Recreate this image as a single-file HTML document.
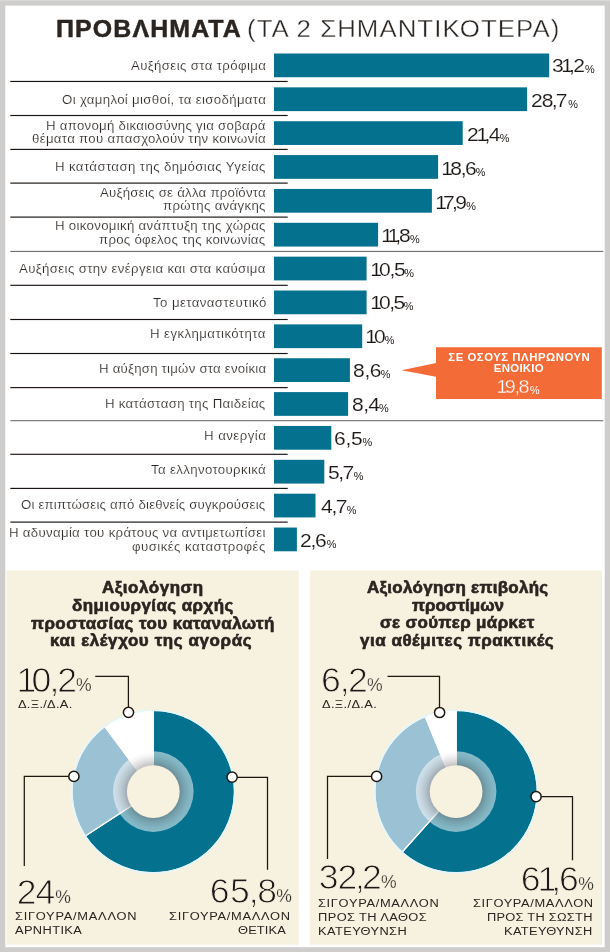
<!DOCTYPE html><html lang="el"><head><meta charset="utf-8"><title>Προβλήματα</title><style>
*{margin:0;padding:0;box-sizing:border-box}
html,body{width:610px;height:952px;overflow:hidden;background:#cecdcb}
body{position:relative;font-family:"Liberation Sans",sans-serif;color:#2a2521}
h1,h2{font:inherit}
.svg{position:absolute;left:0;top:0}
.t{position:absolute;white-space:nowrap;line-height:1em;transform-origin:0 0}
.p{position:absolute;white-space:nowrap;line-height:1em;color:#1d1815}
.tl{-webkit-text-stroke:0.35px #fff}
.num{-webkit-text-stroke:0.12px #fff;color:#1d1815}
.big{-webkit-text-stroke:0.95px #f7f1e0;color:#1d1815}
.num.onor{-webkit-text-stroke:0.3px #f36b37}
.pb{-webkit-text-stroke:0.3px #f7f1e0}
.one{margin:0 -0.12em 0 -0.08em}
.cm{margin:0 -0.05em 0 -0.04em}
.lb{-webkit-text-stroke:0.18px #fff}
.hv{-webkit-text-stroke:0.45px #2a2521}
.hp{-webkit-text-stroke:0.6px #2a2521}
</style></head><body>
<svg class="svg" width="610" height="952" viewBox="0 0 610 952">
<defs><radialGradient id="sh" cx="0.5" cy="0.5" r="0.5"><stop offset="0.64" stop-color="#20181a" stop-opacity="0.28"/><stop offset="0.76" stop-color="#20181a" stop-opacity="0.15"/><stop offset="0.90" stop-color="#20181a" stop-opacity="0.04"/><stop offset="1" stop-color="#20181a" stop-opacity="0"/></radialGradient></defs>
<rect x="0" y="0" width="610" height="1.2" fill="#d9d9d8"/>
<rect x="5.3" y="5.6" width="599.4" height="941.6" fill="#fff"/>
<rect x="6.5" y="570.6" width="292.2" height="374.2" fill="#f7f1e0"/>
<rect x="310.2" y="570.6" width="291.9" height="374.2" fill="#f7f1e0"/>
<rect x="274.0" y="53.50" width="275.2" height="23.75" fill="#04718f"/>
<rect x="10.3" y="80.88" width="277.4" height="1.15" fill="#17120f"/>
<rect x="274.0" y="87.36" width="253.1" height="23.75" fill="#04718f"/>
<rect x="10.3" y="114.93" width="277.4" height="1.15" fill="#17120f"/>
<rect x="274.0" y="121.22" width="188.7" height="23.75" fill="#04718f"/>
<rect x="10.3" y="148.83" width="277.4" height="1.15" fill="#17120f"/>
<rect x="274.0" y="155.08" width="164.1" height="23.75" fill="#04718f"/>
<rect x="10.3" y="182.53" width="277.4" height="1.15" fill="#17120f"/>
<rect x="274.0" y="188.94" width="157.9" height="23.75" fill="#04718f"/>
<rect x="10.3" y="216.53" width="277.4" height="1.15" fill="#17120f"/>
<rect x="274.0" y="222.80" width="104.1" height="23.75" fill="#04718f"/>
<rect x="10.3" y="250.88" width="593" height="1.1" fill="#6f6f6f"/>
<rect x="274.0" y="256.66" width="92.6" height="23.75" fill="#04718f"/>
<rect x="10.3" y="284.73" width="277.4" height="1.15" fill="#17120f"/>
<rect x="274.0" y="290.52" width="92.6" height="23.75" fill="#04718f"/>
<rect x="10.3" y="318.93" width="277.4" height="1.15" fill="#17120f"/>
<rect x="274.0" y="324.38" width="88.2" height="23.75" fill="#04718f"/>
<rect x="10.3" y="352.93" width="277.4" height="1.15" fill="#17120f"/>
<rect x="274.0" y="358.24" width="75.9" height="23.75" fill="#04718f"/>
<rect x="10.3" y="387.03" width="277.4" height="1.15" fill="#17120f"/>
<rect x="274.0" y="392.10" width="74.1" height="23.75" fill="#04718f"/>
<rect x="10.3" y="420.13" width="593" height="1.1" fill="#6f6f6f"/>
<rect x="274.0" y="425.96" width="57.3" height="23.75" fill="#04718f"/>
<rect x="10.3" y="453.73" width="277.4" height="1.15" fill="#17120f"/>
<rect x="274.0" y="459.82" width="50.3" height="23.75" fill="#04718f"/>
<rect x="10.3" y="487.83" width="277.4" height="1.15" fill="#17120f"/>
<rect x="274.0" y="493.68" width="41.5" height="23.75" fill="#04718f"/>
<rect x="10.3" y="521.53" width="277.4" height="1.15" fill="#17120f"/>
<rect x="274.0" y="527.54" width="22.9" height="23.75" fill="#04718f"/>
<path d="M436 347.2H601.8V399.1H436V376.8L401.6 370.3L436 363Z" fill="#f36b37"/>
<path d="M153.30 791.60L153.30 710.30A81.3 81.3 0 1 1 85.21 836.02Z" fill="#04718f" stroke="#fff" stroke-width="1.3" stroke-linejoin="round"/>
<path d="M153.30 791.60L85.21 836.02A81.3 81.3 0 0 1 104.69 726.43Z" fill="#9bc1d5" stroke="#fff" stroke-width="1.3" stroke-linejoin="round"/>
<path d="M153.30 791.60L104.69 726.43A81.3 81.3 0 0 1 153.30 710.30Z" fill="#fff" stroke="#fff" stroke-width="1.3" stroke-linejoin="round"/>
<circle cx="153.3" cy="791.6" r="81.3" fill="none" stroke="#e4f6f9" stroke-width="1.6"/>
<circle cx="153.3" cy="791.6" r="40.3" fill="#fff" fill-opacity="0.52"/>
<circle cx="153.3" cy="791.6" r="40.5" fill="url(#sh)"/>
<circle cx="153.3" cy="791.6" r="26.4" fill="#f7f1e0"/>
<path d="M456.10 791.60L456.10 710.30A81.3 81.3 0 1 1 401.95 852.25Z" fill="#04718f" stroke="#fff" stroke-width="1.3" stroke-linejoin="round"/>
<path d="M456.10 791.60L401.95 852.25A81.3 81.3 0 0 1 425.22 716.39Z" fill="#9bc1d5" stroke="#fff" stroke-width="1.3" stroke-linejoin="round"/>
<path d="M456.10 791.60L425.22 716.39A81.3 81.3 0 0 1 456.10 710.30Z" fill="#fff" stroke="#fff" stroke-width="1.3" stroke-linejoin="round"/>
<circle cx="456.1" cy="791.6" r="81.3" fill="none" stroke="#e4f6f9" stroke-width="1.6"/>
<circle cx="456.1" cy="791.6" r="40.3" fill="#fff" fill-opacity="0.52"/>
<circle cx="456.1" cy="791.6" r="40.5" fill="url(#sh)"/>
<circle cx="456.1" cy="791.6" r="26.4" fill="#f7f1e0"/>
<path d="M95.3 676.4H128.4V707" fill="none" stroke="#1f170f" stroke-width="1.25"/>
<path d="M69 776.4H24.3V865.9" fill="none" stroke="#1f170f" stroke-width="1.25"/>
<path d="M237 777.3H267.5V869.8" fill="none" stroke="#1f170f" stroke-width="1.25"/>
<path d="M387.5 676.4H439.5V707" fill="none" stroke="#1f170f" stroke-width="1.25"/>
<path d="M371 776.4H327.5V859" fill="none" stroke="#1f170f" stroke-width="1.25"/>
<path d="M541 796.6H572.5V860.2" fill="none" stroke="#1f170f" stroke-width="1.25"/>
<circle cx="128.5" cy="712.3" r="5.1" fill="#fff" stroke="#1f170f" stroke-width="1.5"/>
<circle cx="73.9" cy="776.4" r="5.1" fill="#fff" stroke="#1f170f" stroke-width="1.5"/>
<circle cx="232.1" cy="777.2" r="5.1" fill="#fff" stroke="#1f170f" stroke-width="1.5"/>
<circle cx="439.6" cy="712.5" r="5.1" fill="#fff" stroke="#1f170f" stroke-width="1.5"/>
<circle cx="376.6" cy="776.4" r="5.1" fill="#fff" stroke="#1f170f" stroke-width="1.5"/>
<circle cx="536.1" cy="796.6" r="5.1" fill="#fff" stroke="#1f170f" stroke-width="1.5"/>
</svg>
<h1>
<span class="t hv" style="left:56.11px;top:18px;font-size:23.5px;letter-spacing:1.053px;transform:scaleX(1.06);font-weight:700;">ΠΡΟΒΛΗΜΑΤΑ</span>
<span class="t tl" style="left:247.35px;top:18px;font-size:23.5px;letter-spacing:0.929px;transform:scaleX(1.1);">(ΤΑ 2 ΣΗΜΑΝΤΙΚΟΤΕΡΑ)</span>
</h1>
<div class="chart">
<div class="row">
<span class="t lb" style="left:131.00px;top:60px;font-size:12.5px;letter-spacing:0.339px;transform:scaleX(1.06);">Αυξήσεις στα τρόφιμα</span>
<span class="t num" style="left:552.46px;top:57px;font-size:18.8px;letter-spacing:-0.607px;transform:scaleX(1.12);">3<span class="one">1</span><span class="cm">,</span>2</span>
<span class="p" style="left:585.05px;top:64px;font-size:10.9px;">%</span>
</div>
<div class="row">
<span class="t lb" style="left:61.97px;top:94px;font-size:12.5px;letter-spacing:0.301px;transform:scaleX(1.06);">Οι χαμηλοί μισθοί, τα εισοδήματα</span>
<span class="t num" style="left:531.08px;top:92px;font-size:18.8px;letter-spacing:-0.762px;transform:scaleX(1.12);">28<span class="cm">,</span>7</span>
<span class="p" style="left:568.25px;top:99px;font-size:10.9px;">%</span>
</div>
<div class="row">
<span class="t lb" style="left:46.24px;top:120px;font-size:12.5px;letter-spacing:0.255px;transform:scaleX(1.06);">Η απονομή δικαιοσύνης για σοβαρά</span>
<span class="t lb" style="left:32.20px;top:133px;font-size:12.5px;letter-spacing:0.285px;transform:scaleX(1.06);">θέματα που απασχολούν την κοινωνία</span>
<span class="t num" style="left:467.08px;top:126px;font-size:18.8px;letter-spacing:-0.399px;transform:scaleX(1.12);">2<span class="one">1</span><span class="cm">,</span>4</span>
<span class="p" style="left:499.65px;top:133px;font-size:10.9px;">%</span>
</div>
<div class="row">
<span class="t lb" style="left:55.34px;top:161px;font-size:12.5px;letter-spacing:0.361px;transform:scaleX(1.06);">Η κατάσταση της δημόσιας Υγείας</span>
<span class="t num" style="left:443.10px;top:160px;font-size:18.8px;letter-spacing:-0.321px;transform:scaleX(1.12);"><span class="one">1</span>8<span class="cm">,</span>6</span>
<span class="p" style="left:475.85px;top:167px;font-size:10.9px;">%</span>
</div>
<div class="row">
<span class="t lb" style="left:100.00px;top:187px;font-size:12.5px;letter-spacing:0.227px;transform:scaleX(1.06);">Αυξήσεις σε άλλα προϊόντα</span>
<span class="t lb" style="left:163.27px;top:200px;font-size:12.5px;letter-spacing:0.289px;transform:scaleX(1.06);">πρώτης ανάγκης</span>
<span class="t num" style="left:437.10px;top:194px;font-size:18.8px;letter-spacing:-1.452px;transform:scaleX(1.12);"><span class="one">1</span>7<span class="cm">,</span>9</span>
<span class="p" style="left:466.25px;top:201px;font-size:10.9px;">%</span>
</div>
<div class="row">
<span class="t lb" style="left:55.34px;top:220px;font-size:12.5px;letter-spacing:0.286px;transform:scaleX(1.06);">Η οικονομική ανάπτυξη της χώρας</span>
<span class="t lb" style="left:99.47px;top:234px;font-size:12.5px;letter-spacing:0.248px;transform:scaleX(1.06);">προς όφελος της κοινωνίας</span>
<span class="t num" style="left:383.30px;top:227px;font-size:18.8px;letter-spacing:-0.857px;transform:scaleX(1.12);"><span class="one">1</span><span class="one">1</span><span class="cm">,</span>8</span>
<span class="p" style="left:410.05px;top:234px;font-size:10.9px;">%</span>
</div>
<div class="row">
<span class="t lb" style="left:19.30px;top:263px;font-size:12.5px;letter-spacing:0.333px;transform:scaleX(1.06);">Αυξήσεις στην ενέργεια και στα καύσιμα</span>
<span class="t num" style="left:371.50px;top:261px;font-size:18.8px;letter-spacing:-0.381px;transform:scaleX(1.12);"><span class="one">1</span>0<span class="cm">,</span>5</span>
<span class="p" style="left:404.25px;top:268px;font-size:10.9px;">%</span>
</div>
<div class="row">
<span class="t lb" style="left:152.54px;top:297px;font-size:12.5px;letter-spacing:0.383px;transform:scaleX(1.06);">Το μεταναστευτικό</span>
<span class="t num" style="left:371.60px;top:294px;font-size:18.8px;letter-spacing:-0.530px;transform:scaleX(1.12);"><span class="one">1</span>0<span class="cm">,</span>5</span>
<span class="p" style="left:403.65px;top:301px;font-size:10.9px;">%</span>
</div>
<div class="row">
<span class="t lb" style="left:150.34px;top:328px;font-size:12.5px;letter-spacing:0.388px;transform:scaleX(1.06);">Η εγκληματικότητα</span>
<span class="t num" style="left:366.70px;top:328px;font-size:18.8px;letter-spacing:-0.429px;transform:scaleX(1.12);"><span class="one">1</span>0</span>
<span class="p" style="left:384.65px;top:335px;font-size:10.9px;">%</span>
</div>
<div class="row">
<span class="t lb" style="left:98.54px;top:363px;font-size:12.5px;letter-spacing:0.203px;transform:scaleX(1.06);">Η αύξηση τιμών στα ενοίκια</span>
<span class="t num" style="left:352.96px;top:362px;font-size:18.8px;letter-spacing:0.464px;transform:scaleX(1.12);">8<span class="cm">,</span>6</span>
<span class="p" style="left:380.75px;top:369px;font-size:10.9px;">%</span>
</div>
<div class="row">
<span class="t lb" style="left:105.44px;top:398px;font-size:12.5px;letter-spacing:0.285px;transform:scaleX(1.06);">Η κατάσταση της Παιδείας</span>
<span class="t num" style="left:351.86px;top:396px;font-size:18.8px;letter-spacing:0.250px;transform:scaleX(1.12);">8<span class="cm">,</span>4</span>
<span class="p" style="left:379.05px;top:403px;font-size:10.9px;">%</span>
</div>
<div class="row">
<span class="t lb" style="left:203.94px;top:430px;font-size:12.5px;letter-spacing:0.423px;transform:scaleX(1.06);">Η ανεργία</span>
<span class="t num" style="left:334.48px;top:430px;font-size:18.8px;letter-spacing:0.589px;transform:scaleX(1.12);">6<span class="cm">,</span>5</span>
<span class="p" style="left:362.55px;top:437px;font-size:10.9px;">%</span>
</div>
<div class="row">
<span class="t lb" style="left:151.14px;top:464px;font-size:12.5px;letter-spacing:0.325px;transform:scaleX(1.06);">Τα ελληνοτουρκικά</span>
<span class="t num" style="left:328.16px;top:464px;font-size:18.8px;letter-spacing:-0.482px;transform:scaleX(1.12);">5<span class="cm">,</span>7</span>
<span class="p" style="left:353.65px;top:471px;font-size:10.9px;">%</span>
</div>
<div class="row">
<span class="t lb" style="left:21.47px;top:499px;font-size:12.5px;letter-spacing:0.163px;transform:scaleX(1.06);">Οι επιπτώσεις από διεθνείς συγκρούσεις</span>
<span class="t num" style="left:320.64px;top:498px;font-size:18.8px;letter-spacing:-0.429px;transform:scaleX(1.12);">4<span class="cm">,</span>7</span>
<span class="p" style="left:346.85px;top:505px;font-size:10.9px;">%</span>
</div>
<div class="row">
<span class="t lb" style="left:9.44px;top:527px;font-size:12.5px;letter-spacing:0.286px;transform:scaleX(1.06);">Η αδυναμία του κράτους να αντιμετωπίσει</span>
<span class="t lb" style="left:132.47px;top:541px;font-size:12.5px;letter-spacing:0.406px;transform:scaleX(1.06);">φυσικές καταστροφές</span>
<span class="t num" style="left:299.78px;top:532px;font-size:18.8px;letter-spacing:-0.304px;transform:scaleX(1.12);">2<span class="cm">,</span>6</span>
<span class="p" style="left:326.75px;top:539px;font-size:10.9px;">%</span>
</div>
<div class="callout">
<span class="t" style="left:448.30px;top:352px;font-size:11.4px;letter-spacing:0.512px;font-weight:700;color:#fff;">ΣΕ ΟΣΟΥΣ ΠΛΗΡΩΝΟΥΝ</span>
<span class="t" style="left:493.85px;top:363px;font-size:11.4px;letter-spacing:0.283px;font-weight:700;color:#fff;">ΕΝΟΙΚΙΟ</span>
<span class="t num onor" style="left:497.80px;top:378px;font-size:18.0px;letter-spacing:-0.394px;transform:scaleX(1.1);color:#fff;"><span class="one">1</span>9<span class="cm">,</span>8</span>
<span class="p" style="left:529.95px;top:385px;font-size:10.8px;color:#fff;">%</span>
</div>
</div>
<section class="panel">
<h2>
<span class="t hp" style="left:102.06px;top:580px;font-size:15.7px;letter-spacing:0.504px;transform:scaleX(1.08);font-weight:700;">Αξιολόγηση</span>
<span class="t hp" style="left:72.39px;top:598px;font-size:15.7px;letter-spacing:0.404px;transform:scaleX(1.08);font-weight:700;">δημιουργίας αρχής</span>
<span class="t hp" style="left:31.23px;top:616px;font-size:15.7px;letter-spacing:0.413px;transform:scaleX(1.08);font-weight:700;">προστασίας του καταναλωτή</span>
<span class="t hp" style="left:49.92px;top:633px;font-size:15.7px;letter-spacing:0.567px;transform:scaleX(1.08);font-weight:700;">και ελέγχου της αγοράς</span>
</h2>
<div class="legend">
<span class="t big" style="left:19.30px;top:663px;font-size:35.6px;letter-spacing:-0.450px;"><span class="one">1</span>0<span class="cm">,</span>2</span>
<span class="p pb" style="left:76.10px;top:677px;font-size:17.6px;">%</span>
<span class="t sm" style="left:18.33px;top:698px;font-size:11.7px;letter-spacing:0.261px;transform:scaleX(1.1);">Δ.Ξ./Δ.Α.</span>
</div>
<div class="legend">
<span class="t big" style="left:16.85px;top:875px;font-size:35.6px;letter-spacing:-1.050px;">24</span>
<span class="p pb" style="left:55.20px;top:889px;font-size:17.6px;">%</span>
<span class="t sm" style="left:14.85px;top:910px;font-size:11.7px;letter-spacing:0.661px;transform:scaleX(1.1);">ΣΙΓΟΥΡΑ/ΜΑΛΛΟΝ</span>
<span class="t sm" style="left:15.40px;top:924px;font-size:11.7px;letter-spacing:0.328px;transform:scaleX(1.1);">ΑΡΝΗΤΙΚΑ</span>
</div>
<div class="legend">
<span class="t big" style="left:209.75px;top:874px;font-size:35.6px;letter-spacing:0.383px;">65<span class="cm">,</span>8</span>
<span class="p pb" style="left:276.30px;top:888px;font-size:17.6px;">%</span>
<span class="t sm" style="left:169.45px;top:910px;font-size:11.7px;letter-spacing:0.626px;transform:scaleX(1.1);">ΣΙΓΟΥΡΑ/ΜΑΛΛΟΝ</span>
<span class="t sm" style="left:237.95px;top:924px;font-size:11.7px;letter-spacing:0.114px;transform:scaleX(1.1);">ΘΕΤΙΚΑ</span>
</div>
</section>
<section class="panel">
<h2>
<span class="t hp" style="left:367.36px;top:580px;font-size:15.7px;letter-spacing:0.273px;transform:scaleX(1.08);font-weight:700;">Αξιολόγηση επιβολής</span>
<span class="t hp" style="left:411.93px;top:598px;font-size:15.7px;letter-spacing:0.021px;transform:scaleX(1.08);font-weight:700;">προστίμων</span>
<span class="t hp" style="left:380.46px;top:615px;font-size:15.7px;letter-spacing:0.348px;transform:scaleX(1.08);font-weight:700;">σε σούπερ μάρκετ</span>
<span class="t hp" style="left:359.53px;top:633px;font-size:15.7px;letter-spacing:0.508px;transform:scaleX(1.08);font-weight:700;">για αθέμιτες πρακτικές</span>
</h2>
<div class="legend">
<span class="t big" style="left:321.05px;top:663px;font-size:35.6px;letter-spacing:0.225px;">6<span class="cm">,</span>2</span>
<span class="p pb" style="left:366.90px;top:677px;font-size:17.6px;">%</span>
<span class="t sm" style="left:321.53px;top:698px;font-size:11.7px;letter-spacing:0.318px;transform:scaleX(1.1);">Δ.Ξ./Δ.Α.</span>
</div>
<div class="legend">
<span class="t big" style="left:318.80px;top:860px;font-size:35.6px;letter-spacing:-1.017px;">32<span class="cm">,</span>2</span>
<span class="p pb" style="left:380.90px;top:874px;font-size:17.6px;">%</span>
<span class="t sm" style="left:318.05px;top:897px;font-size:11.7px;letter-spacing:0.612px;transform:scaleX(1.1);">ΣΙΓΟΥΡΑ/ΜΑΛΛΟΝ</span>
<span class="t sm" style="left:317.50px;top:911px;font-size:11.7px;letter-spacing:0.356px;transform:scaleX(1.1);">ΠΡΟΣ ΤΗ ΛΑΘΟΣ</span>
<span class="t sm" style="left:317.50px;top:925px;font-size:11.7px;letter-spacing:0.359px;transform:scaleX(1.1);">ΚΑΤΕΥΘΥΝΣΗ</span>
</div>
<div class="legend">
<span class="t big" style="left:520.85px;top:862px;font-size:35.6px;letter-spacing:-0.317px;">6<span class="one">1</span><span class="cm">,</span>6</span>
<span class="p pb" style="left:578.30px;top:876px;font-size:17.6px;">%</span>
<span class="t sm" style="left:472.85px;top:897px;font-size:11.7px;letter-spacing:0.563px;transform:scaleX(1.1);">ΣΙΓΟΥΡΑ/ΜΑΛΛΟΝ</span>
<span class="t sm" style="left:487.10px;top:911px;font-size:11.7px;letter-spacing:0.222px;transform:scaleX(1.1);">ΠΡΟΣ ΤΗ ΣΩΣΤΗ</span>
<span class="t sm" style="left:504.30px;top:925px;font-size:11.7px;letter-spacing:0.308px;transform:scaleX(1.1);">ΚΑΤΕΥΘΥΝΣΗ</span>
</div>
</section>
</body></html>
